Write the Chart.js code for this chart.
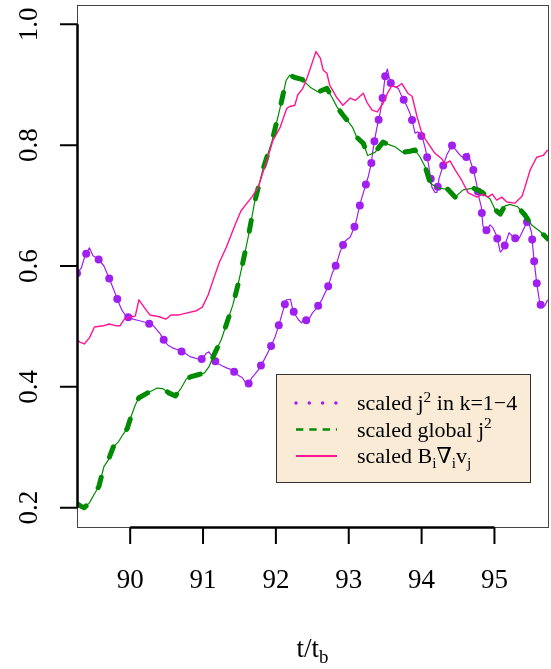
<!DOCTYPE html>
<html><head><meta charset="utf-8">
<script src="https://cdn.jsdelivr.net/npm/chart.js@4"></script>
<style>html,body{margin:0;padding:0;background:#fff;}#wrap{width:551px;height:669px;position:relative;}</style>
</head><body><div id="wrap"><canvas id="c" width="551" height="669"></canvas></div>
<script>
// ---- data ----
const purpleT = [89.27,89.33,89.38,89.44,89.49,89.56,89.64,89.71,89.78,89.84,
89.89,89.95,90.04,90.14,90.23,90.32,90.41,90.48,90.52,90.59,
90.66,90.75,90.82,90.88,90.93,90.99,91.04,91.08,91.14,91.18,
91.26,91.33,91.40,91.47,91.54,91.61,91.67,91.76,91.84,91.92,
91.99,92.04,92.10,92.14,92.20,92.22,92.25,92.31,92.35,92.40,
92.43,92.50,92.57,92.63,92.72,92.77,92.83,92.88,92.94,93.02,
93.09,93.13,93.17,93.22,93.27,93.31,93.33,93.36,93.39,93.43,
93.46,93.48,93.50,93.53,93.57,93.61,93.68,93.72,93.76,93.80,
93.84,93.87,93.91,93.95,94.01,94.05,94.09,94.12,94.14,94.18,
94.21,94.24,94.29,94.35,94.42,94.47,94.53,94.60,94.64,94.66,
94.71,94.75,94.79,94.82,94.84,94.87,94.94,94.98,95.03,95.08,
95.13,95.20,95.27,95.34,95.42,95.46,95.51,95.54,95.58,95.62,
95.65,95.69,95.73];
const purpleV = [0.588,0.597,0.617,0.630,0.617,0.612,0.600,0.580,0.559,0.540,
0.526,0.516,0.512,0.509,0.506,0.501,0.488,0.474,0.469,0.464,
0.461,0.456,0.450,0.448,0.446,0.446,0.455,0.458,0.448,0.440,
0.435,0.431,0.428,0.420,0.415,0.402,0.415,0.428,0.445,0.464,
0.483,0.502,0.527,0.544,0.545,0.534,0.522,0.511,0.506,0.514,
0.507,0.522,0.532,0.544,0.567,0.587,0.603,0.623,0.640,0.648,
0.668,0.689,0.709,0.729,0.749,0.770,0.790,0.812,0.831,0.853,
0.873,0.894,0.914,0.926,0.904,0.898,0.894,0.883,0.874,0.864,
0.853,0.841,0.820,0.822,0.813,0.795,0.772,0.749,0.731,0.722,
0.722,0.745,0.764,0.785,0.800,0.792,0.783,0.777,0.787,0.777,
0.759,0.739,0.712,0.698,0.668,0.656,0.668,0.663,0.650,0.623,
0.630,0.655,0.646,0.646,0.666,0.676,0.655,0.613,0.572,0.540,
0.531,0.534,0.544];

const greenT = [89.27,89.33,89.37,89.44,89.51,89.57,89.64,89.70,89.77,89.84,
89.90,89.96,90.01,90.07,90.12,90.21,90.27,90.37,90.45,90.53,
90.62,90.70,90.77,90.84,90.93,91.02,91.08,91.15,91.25,91.33,
91.41,91.48,91.54,91.62,91.71,91.82,91.95,92.06,92.14,92.19,
92.26,92.36,92.47,92.58,92.70,92.77,92.84,92.92,93.05,93.11,
93.20,93.26,93.36,93.47,93.57,93.64,93.74,93.84,93.91,93.98,
94.05,94.12,94.22,94.36,94.46,94.57,94.71,94.83,94.94,95.01,
95.08,95.14,95.21,95.32,95.42,95.51,95.62,95.73];
const greenV = [0.207,0.202,0.200,0.208,0.223,0.235,0.268,0.279,0.301,0.309,
0.321,0.331,0.350,0.370,0.382,0.388,0.392,0.398,0.397,0.390,
0.385,0.398,0.413,0.417,0.420,0.423,0.433,0.453,0.478,0.507,
0.536,0.569,0.602,0.648,0.707,0.759,0.808,0.863,0.907,0.916,
0.912,0.909,0.896,0.888,0.894,0.879,0.863,0.850,0.830,0.813,
0.803,0.783,0.788,0.805,0.800,0.797,0.788,0.790,0.792,0.780,
0.764,0.737,0.729,0.727,0.714,0.726,0.729,0.722,0.711,0.693,
0.686,0.699,0.702,0.698,0.684,0.668,0.658,0.645];

const pinkT = [89.27,89.31,89.37,89.44,89.51,89.63,89.71,89.81,89.86,89.92,
90.01,90.07,90.12,90.19,90.27,90.40,90.49,90.56,90.67,90.77,
90.91,90.99,91.07,91.14,91.22,91.32,91.40,91.45,91.52,91.59,
91.67,91.76,91.82,91.89,91.96,92.06,92.15,92.19,92.26,92.30,
92.37,92.43,92.50,92.55,92.61,92.65,92.70,92.74,92.84,92.92,
93.02,93.09,93.20,93.25,93.32,93.39,93.47,93.54,93.59,93.66,
93.73,93.81,93.87,93.94,94.01,94.09,94.18,94.28,94.32,94.39,
94.46,94.55,94.64,94.76,94.84,94.91,94.97,95.03,95.10,95.17,
95.28,95.38,95.42,95.49,95.58,95.67,95.73];
const pinkV = [0.478,0.474,0.471,0.481,0.499,0.501,0.504,0.501,0.501,0.512,
0.516,0.517,0.544,0.532,0.519,0.516,0.512,0.519,0.519,0.522,
0.526,0.532,0.552,0.577,0.605,0.631,0.656,0.671,0.691,0.702,
0.714,0.731,0.754,0.780,0.808,0.830,0.861,0.864,0.866,0.883,
0.894,0.912,0.937,0.955,0.944,0.924,0.919,0.899,0.878,0.866,
0.878,0.874,0.886,0.871,0.858,0.855,0.869,0.888,0.898,0.896,
0.902,0.886,0.881,0.846,0.817,0.803,0.787,0.777,0.769,0.774,
0.759,0.742,0.721,0.714,0.719,0.714,0.719,0.709,0.714,0.706,
0.704,0.716,0.731,0.759,0.780,0.783,0.792];

const xTicks = [90,91,92,93,94,95];
const xTickLabels = ['90','91','92','93','94','95'];
const yTicks = [0.2,0.4,0.6,0.8,1.0];
const yTickLabels = ['0.2','0.4','0.6','0.8','1.0'];
const xRange = [89.27, 95.735];
const yRange = [0.168, 1.032];
const legendLabels = [
  [{t:'scaled j'},{t:'2',sup:true},{t:' in k=1\u22124'}],
  [{t:'scaled global j'},{t:'2',sup:true}],
  [{t:'scaled B'},{t:'i',sub:true},{t:'\u2207'},{t:'i',sub:true},{t:'v'},{t:'j',sub:true}]
];
const xTitle = [{t:'t/t'},{t:'b',sub:true}];

const PURPLE = '#A020F0', GREEN = '#008B00', PINK = '#FF1493';
const SERIF = '"Liberation Serif", "DejaVu Serif", serif';

const pts = (T, V) => T.map((t, i) => ({x: t, y: V[i]}));

function drawRich(ctx, x, y, segs, size, align) {
  const measure = s => { ctx.font = ((s.sup||s.sub) ? size*0.7 : size) + 'px ' + SERIF; return ctx.measureText(s.t).width; };
  let w = 0; segs.forEach(s => w += measure(s));
  let cx = align === 'center' ? x - w/2 : x;
  ctx.textAlign = 'left'; ctx.textBaseline = 'alphabetic';
  segs.forEach(s => {
    const sw = measure(s);
    let dy = 0;
    if (s.sup) dy = -size*0.38;
    if (s.sub) dy = size*0.24;
    ctx.fillText(s.t, cx, y + dy);
    cx += sw;
  });
}

const rPlot = {
  id: 'rPlot',
  afterDraw(chart) {
    const ctx = chart.ctx, ca = chart.chartArea;
    const xs = chart.scales.x, ys = chart.scales.y;
    ctx.save();
    // plot box
    ctx.strokeStyle = '#444'; ctx.lineWidth = 1;
    ctx.strokeRect(ca.left + 0.5, ca.top + 0.5, ca.right - ca.left, ca.bottom - ca.top);
    // axes
    ctx.strokeStyle = '#000'; ctx.lineWidth = 2.5; ctx.lineCap = 'butt';
    ctx.beginPath();
    ctx.moveTo(ca.left + 0.5, ys.getPixelForValue(yTicks[0]));
    ctx.lineTo(ca.left + 0.5, ys.getPixelForValue(yTicks[yTicks.length-1]));
    ctx.moveTo(xs.getPixelForValue(xTicks[0]), ca.bottom + 0.5);
    ctx.lineTo(xs.getPixelForValue(xTicks[xTicks.length-1]), ca.bottom + 0.5);
    ctx.stroke();
    ctx.lineWidth = 2;
    ctx.beginPath();
    yTicks.forEach(v => { const p = ys.getPixelForValue(v); ctx.moveTo(ca.left + 0.5, p); ctx.lineTo(ca.left - 17, p); });
    xTicks.forEach(v => { const p = xs.getPixelForValue(v); ctx.moveTo(p, ca.bottom + 0.5); ctx.lineTo(p, ca.bottom + 17); });
    ctx.stroke();
    // tick labels
    ctx.fillStyle = '#000';
    ctx.font = '27px ' + SERIF;
    ctx.textAlign = 'center'; ctx.textBaseline = 'alphabetic';
    xTicks.forEach((v, i) => ctx.fillText(xTickLabels[i], xs.getPixelForValue(v), 588));
    yTicks.forEach((v, i) => {
      ctx.save();
      ctx.translate(37, ys.getPixelForValue(v));
      ctx.rotate(-Math.PI/2);
      ctx.fillText(yTickLabels[i], 0, 0);
      ctx.restore();
    });
    // axis title
    drawRich(ctx, (ca.left + ca.right)/2, 657, xTitle, 27, 'center');
    // legend
    const L = 276, T = 374, R = 530, B = 482;
    ctx.fillStyle = '#FAEBD7';
    ctx.fillRect(L, T, R - L, B - T);
    ctx.strokeStyle = '#333'; ctx.lineWidth = 1;
    ctx.strokeRect(L + 0.5, T + 0.5, R - L, B - T);
    const rows = [403, 429.5, 456];
    // samples
    ctx.lineWidth = 3.5; ctx.lineCap = 'round'; ctx.strokeStyle = PURPLE; ctx.setLineDash([0, 13.3]);
    ctx.beginPath(); ctx.moveTo(296, rows[0]); ctx.lineTo(338, rows[0]); ctx.stroke();
    ctx.lineWidth = 2.5; ctx.lineCap = 'butt'; ctx.strokeStyle = GREEN; ctx.setLineDash([7.3, 6]);
    ctx.beginPath(); ctx.moveTo(296, rows[1]); ctx.lineTo(337, rows[1]); ctx.stroke();
    ctx.setLineDash([]); ctx.lineWidth = 2; ctx.strokeStyle = PINK;
    ctx.beginPath(); ctx.moveTo(296, rows[2]); ctx.lineTo(337, rows[2]); ctx.stroke();
    ctx.fillStyle = '#000';
    legendLabels.forEach((segs, i) => drawRich(ctx, 357, rows[i] + 7, segs, 22, 'left'));
    ctx.restore();
  }
};

new Chart(document.getElementById('c'), {
  type: 'scatter',
  data: {
    datasets: [
      {data: pts(pinkT, pinkV), showLine: true, borderColor: PINK, borderWidth: 1.4, pointRadius: 0, order: 0},
      {data: pts(greenT, greenV), showLine: true, borderColor: GREEN, borderWidth: 5, borderDash: [11, 22], borderCapStyle: 'round', pointRadius: 0, order: 1},
      {data: pts(greenT, greenV), showLine: true, borderColor: GREEN, borderWidth: 1.2, pointRadius: 0, order: 2},
      {data: pts(purpleT, purpleV), showLine: true, borderColor: PURPLE, borderWidth: 8, borderDash: [0, 22], borderCapStyle: 'round', pointRadius: 0, order: 3},
      {data: pts(purpleT, purpleV), showLine: true, borderColor: PURPLE, borderWidth: 1.2, pointRadius: 0, order: 4}
    ]
  },
  options: {
    responsive: false,
    devicePixelRatio: 1,
    animation: false,
    layout: {padding: {left: 77, top: 5, right: 3, bottom: 142}},
    plugins: {legend: {display: false}, tooltip: {enabled: false}},
    elements: {line: {tension: 0, borderJoinStyle: 'round'}},
    scales: {
      x: {type: 'linear', min: xRange[0], max: xRange[1], display: false},
      y: {type: 'linear', min: yRange[0], max: yRange[1], display: false}
    }
  },
  plugins: [rPlot]
});
</script>
</body></html>
